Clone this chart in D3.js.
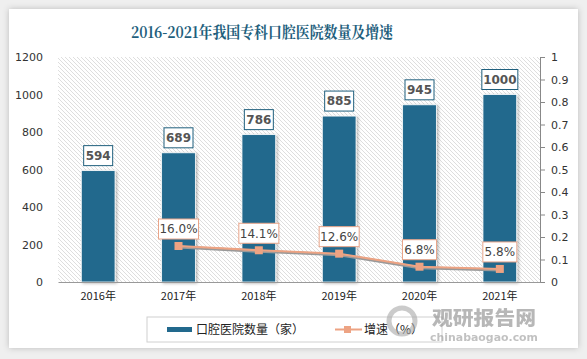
<!DOCTYPE html>
<html><head><meta charset="utf-8">
<script src="https://cdn.jsdelivr.net/npm/d3@7/dist/d3.min.js"></script>
<style>
html,body{margin:0;padding:0;background:#efefef;}
svg{display:block;}
</style></head>
<body>
<svg id="chart" width="587" height="359"></svg>
<script>
const categories = ["2016年","2017年","2018年","2019年","2020年","2021年"];
const hospitalCounts = [594, 689, 786, 885, 945, 1000];
const growthRates = [null, 0.160, 0.141, 0.126, 0.068, 0.058];
const growthLabels = [null, "16.0%", "14.1%", "12.6%", "6.8%", "5.8%"];
const leftTicks = [0,200,400,600,800,1000,1200];
const rightTicks = [0,0.1,0.2,0.3,0.4,0.5,0.6,0.7,0.8,0.9,1];
const titleText = "2016-2021年我国专科口腔医院数量及增速";
const legendLabels = ["口腔医院数量（家）", "增速（%）"];

const svg = d3.select("#chart");
const defs = svg.append("defs");
const f = defs.append("filter").attr("id","shadow").attr("x","-20%").attr("y","-20%").attr("width","140%").attr("height","140%");
f.append("feDropShadow").attr("dx",0).attr("dy",0).attr("stdDeviation",3).attr("flood-color","#000").attr("flood-opacity",0.22);
const fb = defs.append("filter").attr("id","barshadow").attr("x","-30%").attr("y","-10%").attr("width","160%").attr("height","120%");
fb.append("feDropShadow").attr("dx",1.5).attr("dy",1).attr("stdDeviation",1.5).attr("flood-color","#000").attr("flood-opacity",0.3);
const pat = defs.append("pattern").attr("id","hatch").attr("patternUnits","userSpaceOnUse").attr("width",4).attr("height",4);
pat.append("rect").attr("width",4).attr("height",4).attr("fill","#fff");
pat.append("path").attr("d","M-1,-1 L5,5 M-1,3 L1,5 M3,-1 L5,1").attr("stroke","#d6d6d6").attr("stroke-width",0.8);

// card
svg.append("rect").attr("x",9).attr("y",9).attr("width",569).attr("height",339).attr("fill","#fff").attr("filter","url(#shadow)");

const m = {left:58, right:540, top:57, bottom:282};
const x = d3.scaleBand().domain(categories).range([m.left, m.right]).paddingInner(0.58).paddingOuter(0.29);
const yL = d3.scaleLinear().domain([0,1200]).range([m.bottom, m.top]);
const yR = d3.scaleLinear().domain([0,1]).range([m.bottom, m.top]);

svg.append("rect").attr("x",m.left).attr("y",m.top).attr("width",m.right-m.left).attr("height",m.bottom-m.top).attr("fill","url(#hatch)");

svg.append("text").attr("x",262).attr("y",38).attr("text-anchor","middle")
  .attr("font-family","'Noto Serif CJK SC','Noto Sans CJK SC',serif").attr("font-weight","bold")
  .attr("font-size",16).attr("textLength",262).attr("lengthAdjust","spacingAndGlyphs")
  .attr("fill","#1f5f7d").text(titleText);

const font = "'DejaVu Sans', Verdana, sans-serif";

// left axis
const gL = svg.append("g").attr("transform",`translate(${m.left},0)`)
  .call(d3.axisLeft(yL).tickValues(leftTicks).tickSize(0).tickPadding(15).tickFormat(d3.format("d")));
gL.select(".domain").remove();
gL.selectAll("text").attr("font-family",font).attr("font-size",11).attr("fill","#333");

// right axis
const gR = svg.append("g").attr("transform",`translate(${m.right},0)`)
  .call(d3.axisRight(yR).tickValues(rightTicks).tickSize(5).tickPadding(6).tickFormat(d3.format("")));
gR.select(".domain").attr("stroke","#888");
gR.selectAll("line").attr("stroke","#888");
gR.selectAll("text").attr("font-family",font).attr("font-size",11).attr("fill","#333");

// bars
svg.append("g").selectAll("rect").data(hospitalCounts).join("rect")
  .attr("x",(d,i)=>x(categories[i])).attr("width",x.bandwidth())
  .attr("y",d=>yL(d)).attr("height",d=>m.bottom-yL(d))
  .attr("fill","#22698d").attr("stroke","#fff").attr("stroke-width",0.8).attr("filter","url(#barshadow)");

// bottom axis
const gB = svg.append("g").attr("transform",`translate(0,${m.bottom})`)
  .call(d3.axisBottom(x).tickSize(0).tickPadding(10));
gB.select(".domain").attr("stroke","#999");
gB.selectAll("text").attr("font-family","'Noto Sans CJK SC', sans-serif").attr("font-size",11).attr("fill","#222");

// bar labels
const bl = svg.append("g").selectAll("g").data(hospitalCounts).join("g")
  .attr("transform",(d,i)=>`translate(${x(categories[i])+x.bandwidth()/2},${yL(d)-15})`);
bl.append("rect").attr("x",d=>String(d).length>3?-18:-14.5).attr("y",-10)
  .attr("width",d=>String(d).length>3?36:29).attr("height",20)
  .attr("fill","#fff").attr("stroke","#1f5f7d").attr("stroke-width",1);
bl.append("text").attr("text-anchor","middle").attr("dy","0.36em")
  .attr("font-family",font).attr("font-weight","bold").attr("font-size",12).attr("fill","#555").text(d=>d);

// line
const lineData = growthRates.map((v,i)=>({v,i})).filter(d=>d.v!=null);
const line = d3.line().x(d=>x(categories[d.i])+x.bandwidth()/2).y(d=>yR(d.v));
svg.append("path").datum(lineData).attr("d",line).attr("fill","none").attr("stroke","#999").attr("stroke-width",3).attr("transform","translate(0,1)");
svg.append("path").datum(lineData).attr("d",line).attr("fill","none").attr("stroke","#eda383").attr("stroke-width",2);
svg.append("g").selectAll("rect").data(lineData).join("rect")
  .attr("x",d=>x(categories[d.i])+x.bandwidth()/2-4).attr("y",d=>yR(d.v)-4)
  .attr("width",8).attr("height",8).attr("fill","#eda383");

// line labels
const ll = svg.append("g").selectAll("g").data(lineData).join("g")
  .attr("transform",d=>`translate(${x(categories[d.i])+x.bandwidth()/2},${yR(d.v)-17})`);
ll.append("rect").attr("x",d=>growthLabels[d.i].length>4?-20:-17).attr("y",-10)
  .attr("width",d=>growthLabels[d.i].length>4?40:34).attr("height",20)
  .attr("fill","#fff").attr("stroke","#e9a58a").attr("stroke-width",1);
ll.append("text").attr("text-anchor","middle").attr("dy","0.36em")
  .attr("font-family",font).attr("font-size",12).attr("fill","#444").text(d=>growthLabels[d.i]);

// legend
svg.append("rect").attr("x",147).attr("y",317).attr("width",295).attr("height",25).attr("fill","#fff").attr("stroke","#d0d0d0");
svg.append("rect").attr("x",167).attr("y",327).attr("width",25).attr("height",5).attr("fill","#22698d");
svg.append("text").attr("x",196).attr("y",334).attr("font-family","'Noto Sans CJK SC', sans-serif").attr("font-size",12).attr("fill","#222").text(legendLabels[0]);
svg.append("line").attr("x1",335).attr("x2",362).attr("y1",329.5).attr("y2",329.5).attr("stroke","#eda383").attr("stroke-width",2);
svg.append("rect").attr("x",344).attr("y",326).attr("width",7).attr("height",7).attr("fill","#eda383");
svg.append("text").attr("x",364).attr("y",334).attr("font-family","'Noto Sans CJK SC', sans-serif").attr("font-size",12).attr("fill","#222").text(legendLabels[1]);

// watermark
const wm = svg.append("g").attr("opacity",0.6);
wm.append("circle").attr("cx",402).attr("cy",321).attr("r",13).attr("fill","none").attr("stroke","#aaa").attr("stroke-width",5);
wm.append("text").attr("x",484).attr("y",325).attr("text-anchor","middle").attr("font-family","'Noto Sans CJK SC', sans-serif").attr("font-weight","900").attr("font-size",19).attr("textLength",104).attr("lengthAdjust","spacingAndGlyphs").attr("fill","#888").text("观研报告网");
wm.append("text").attr("x",484).attr("y",341).attr("text-anchor","middle").attr("font-family",font).attr("font-weight","bold").attr("font-size",11).attr("textLength",108).attr("lengthAdjust","spacingAndGlyphs").attr("fill","#999").text("chinabaogao.com");
</script>
</body></html>
